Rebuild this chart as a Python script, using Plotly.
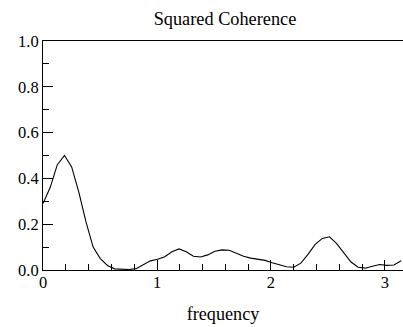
import numpy as np
import plotly.graph_objects as go

# frequencies (2*pi*k/100, k = 0..50) and squared coherence
freq = [2 * np.pi * k / 100 for k in range(51)]
coh = [0.29, 0.36, 0.46, 0.50, 0.45, 0.34, 0.21, 0.10, 0.05, 0.02,
       0.005, 0.002, 0.002, 0.006, 0.022, 0.040, 0.047, 0.058, 0.080, 0.092,
       0.080, 0.060, 0.057, 0.066, 0.082, 0.088, 0.086, 0.074, 0.060, 0.052,
       0.048, 0.042, 0.032, 0.022, 0.014, 0.012, 0.030, 0.068, 0.112, 0.138,
       0.145, 0.115, 0.075, 0.035, 0.012, 0.008, 0.016, 0.024, 0.020, 0.022,
       0.040]
x_ticks = [0, 1, 2, 3]
x_labels = ["0", "1", "2", "3"]
y_ticks = [0.0, 0.2, 0.4, 0.6, 0.8, 1.0]
y_labels = ["0.0", "0.2", "0.4", "0.6", "0.8", "1.0"]

font = "Liberation Serif"

fig = go.Figure(go.Scatter(x=freq, y=coh, mode="lines",
                           line=dict(color="black", width=1.1),
                           showlegend=False, hoverinfo="skip"))

fig.update_layout(
    width=403, height=327,
    margin=dict(l=43, r=0, t=41, b=57, autoexpand=False),
    paper_bgcolor="white", plot_bgcolor="white",
    font=dict(family=font, size=16, color="black"),
    title=dict(text="Squared Coherence", x=225 / 403, xanchor="center",
               xref="container", y=1 - 19 / 327, yanchor="middle",
               yref="container", font=dict(family=font, size=18.3)),
)
fig.update_xaxes(
    range=[0, 3.158], showgrid=False, zeroline=False, automargin=False,
    showline=True, linecolor="black", linewidth=1, mirror=True,
    tickmode="array", tickvals=x_ticks, ticktext=x_labels,
    ticks="inside", ticklen=10, tickcolor="black", tickwidth=1,
    ticklabelstandoff=-3,
    minor=dict(dtick=0.2, tick0=0, ticks="inside", ticklen=6,
               tickcolor="black", tickwidth=1, showgrid=False),
    title=dict(text="frequency", standoff=16, font=dict(family=font, size=18.2)),
    tickfont=dict(family=font, size=16.5),
)
fig.update_yaxes(
    range=[0, 1], showgrid=False, zeroline=False, automargin=False,
    showline=True, linecolor="black", linewidth=1, mirror=False,
    tickmode="array", tickvals=y_ticks, ticktext=y_labels,
    ticks="inside", ticklen=10, tickcolor="black", tickwidth=1,
    minor=dict(dtick=0.1, tick0=0, ticks="inside", ticklen=6,
               tickcolor="black", tickwidth=1, showgrid=False),
    tickfont=dict(family=font, size=16.5),
)

fig.write_html("out.html",
               config={"displayModeBar": False},
               post_script="document.body.style.margin='0';"
                           "document.body.style.padding='0';")
